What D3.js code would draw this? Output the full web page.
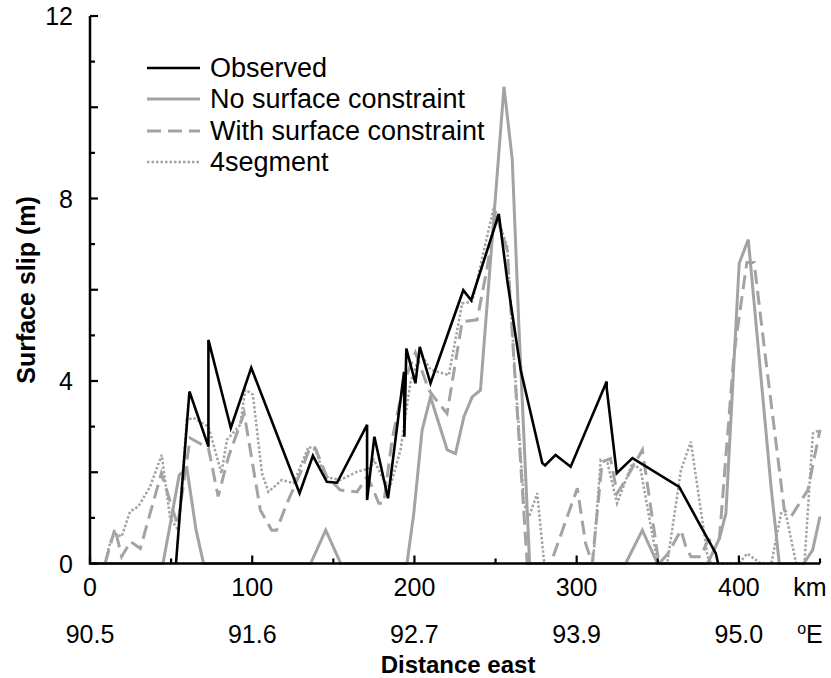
<!DOCTYPE html>
<html>
<head>
<meta charset="utf-8">
<script src="https://cdn.jsdelivr.net/npm/d3@7"></script>
<style>
  body { margin: 0; background: #fff; }
  svg text { font-family: "Liberation Sans", Arial, Helvetica, sans-serif; fill: #000; }
</style>
</head>
<body>
<svg id="paper"></svg>
<script>
// slip profiles, [distance km, slip m]
let observed = [[53,0],[61.3,3.77],[73,2.56],[73,4.9],[86.8,2.97],[99.4,4.29],[129.2,1.54],[137.4,2.36],
    [146,1.79],[152.3,1.77],[170.8,3.04],[170.8,1.39],[175.3,2.78],[183.7,1.43],[193.6,4.2],[193.8,2.78],
    [195,4.71],[200.6,3.95],[203.3,4.75],[209.9,3.95],[230.1,5.99],[235,5.77],[252,7.66],[257.2,6.21],
    [265.5,4.24],[278.8,2.2],[280.5,2.15],[287,2.38],[296.3,2.12],[318.5,3.99],[318.5,3.85],[324.7,1.98],
    [334.4,2.31],[363.2,1.68],[376.6,0.81],[385.8,0.22],[387.2,0]];

let noConstraint = [[0,0],[45,0],[55,1.94],[59.7,2.09],[65.4,0.73],[70,0],[136,0],[145.3,0.73],[154.6,0],
    [195.4,0],[199.6,1.1],[204.7,2.92],[209.9,3.65],[220.2,2.49],[225.3,2.41],[230.5,3.22],[235.6,3.65],
    [240.7,3.8],[255.2,10.45],[260.3,8.85],[264.4,5.2],[271,0],[330.2,0],[336.4,0.44],[340.5,0.73],
    [349.8,0],[380.7,0],[388,0.55],[392,1.1],[400.2,6.58],[405.8,7.1],[419.8,1.69],[424.9,0],[440,0],
    [445.5,0.3],[450,1.03]];

let withConstraint = [[9.3,0],[15.4,0.77],[19.5,0.15],[25,0.48],[31,0.33],[44,1.98],[54,0.84],[61.7,2.75],
    [73,2.53],[79,1.47],[85.4,2.34],[95,3.3],[105,1.17],[112,0.73],[115,0.73],[121.4,1.32],[129.6,1.98],
    [135.8,2.56],[138.9,2.53],[146,1.9],[154.3,1.61],[164.6,1.57],[170.8,1.9],[173.9,1.68],[178,1.32],
    [181.1,1.32],[186.2,2.71],[193.4,3.96],[200.6,4.62],[208.8,3.81],[211.9,3.65],[220.1,3.29],[229.4,5.3],
    [238.6,5.34],[244.8,6.47],[250,7.68],[257.2,6.87],[261.3,4.46],[269.5,0],[284,0],[300.4,1.65],
    [305.5,0.44],[309.6,0],[315.7,2.23],[320.8,2.3],[324.9,1.54],[329,1.76],[340.5,2.49],[350.7,0],
    [356,0.2],[364.3,0.73],[367.3,0.37],[370.4,0.15],[376.6,0.15],[380.7,0.5],[388,0.55],[397,4.6],
    [404.9,6.6],[409.4,6.6],[415.6,4.75],[428,1.17],[432.2,1.03],[442.5,1.61],[450,2.93]];

let fourSegment = [[9,0],[12.8,0.5],[15.4,0.66],[19.5,0.59],[24.7,1.14],[29.8,1.25],[37,1.68],[44.2,2.38],
    [49.4,0.99],[54.5,0.73],[59.7,3.15],[63.8,3.19],[73,3.0],[78.2,2.34],[81,1.98],[84.4,2.71],[92.6,3.04],
    [95.7,3.81],[100.4,3.7],[106,1.98],[110,1.57],[118.2,1.83],[125.5,1.76],[134.7,2.56],[138.9,2.49],
    [145,1.9],[154.3,1.83],[164.6,2.01],[172.8,2.09],[175,2.27],[181,1.83],[185,1.68],[191.4,2.49],
    [197.5,3.96],[203.7,4.62],[209.9,4.25],[221.2,4.13],[229.4,5.7],[235.6,5.74],[249,7.82],[257.2,6.94],
    [261.3,4.53],[267.5,1.32],[270.6,1.02],[275.7,1.54],[279.8,0.07],[282,0],[310,0],[314.8,2.27],
    [319,2.2],[324.9,1.32],[334.3,2.2],[339.5,2.05],[349.8,0],[355.8,0],[364.3,2.05],[370.4,2.67],
    [380.7,0.15],[383,0],[400,0],[405.2,0.22],[413.4,0],[420,0],[426,1.1],[429.1,1.06],[435.3,0],
    [440.4,0],[445.6,2.85],[450,2.93]];

let kmTicks = [0, 100, 200, 300, 400];
let kmMinor = [50, 150, 250, 350, 450];
let lonLabels = ["90.5", "91.6", "92.7", "93.9", "95.0"];
let slipLabels = [0, 4, 8, 12];
let slipMajor = [0, 2, 4, 6, 8, 10, 12];
let slipMinor = [1, 3, 5, 7, 9, 11];
let seriesNames = ["Observed", "No surface constraint", "With surface constraint", "4segment"];

let width = 831, height = 678;
let svg = d3.select("#paper").attr("width", width).attr("height", height);

let x = d3.scaleLinear().domain([0, 450]).range([90, 820]);
let y = d3.scaleLinear().domain([0, 12]).range([563.5, 16]);

let styles = [
    {data: observed, color: "#000", w: 2.6, dash: null},
    {data: noConstraint, color: "#a3a3a3", w: 3, dash: null},
    {data: withConstraint, color: "#a3a3a3", w: 3, dash: "14,7"},
    {data: fourSegment, color: "#a3a3a3", w: 2.5, dash: "2.5,2"}
];

let line = d3.line().x(d => x(d[0])).y(d => y(d[1]));

// draw gray first, black on top
[3, 2, 1, 0].forEach(i => {
    let s = styles[i];
    svg.append("path")
        .datum(s.data)
        .attr("d", line)
        .attr("fill", "none")
        .attr("stroke", s.color)
        .attr("stroke-width", s.w)
        .attr("stroke-dasharray", s.dash)
        .attr("stroke-linejoin", "miter");
});

// axes: inward ticks
let axes = svg.append("g").attr("stroke", "#000");
axes.selectAll(".xt").data(kmTicks.map(d => [d, 8]).concat(kmMinor.map(d => [d, 5])))
    .enter().append("line")
    .attr("x1", d => x(d[0])).attr("x2", d => x(d[0]))
    .attr("y1", y(0)).attr("y2", d => y(0) - d[1])
    .attr("stroke-width", 2.2);
axes.selectAll(".yt").data(slipMajor.map(d => [d, 8]).concat(slipMinor.map(d => [d, 5])))
    .enter().append("line")
    .attr("y1", d => y(d[0])).attr("y2", d => y(d[0]))
    .attr("x1", x(0)).attr("x2", d => x(0) + d[1])
    .attr("stroke-width", 2.2);
axes.append("path")
    .attr("d", "M" + x(0) + "," + y(12) + "V" + y(0) + "H" + x(450))
    .attr("fill", "none").attr("stroke-width", 2.5);

// tick labels
svg.selectAll(".ylab").data(slipLabels).enter().append("text")
    .attr("x", 73).attr("y", d => y(d) + 9)
    .attr("text-anchor", "end").style("font-size", "25px")
    .text(d => d);

svg.selectAll(".xlab").data(kmTicks).enter().append("text")
    .attr("x", d => x(d)).attr("y", 596)
    .attr("text-anchor", "middle").style("font-size", "25px")
    .text(d => d);
svg.append("text").attr("x", 810).attr("y", 596).attr("text-anchor", "middle")
    .style("font-size", "25px").text("km");

svg.selectAll(".lonlab").data(kmTicks).enter().append("text")
    .attr("x", d => x(d)).attr("y", 643)
    .attr("text-anchor", "middle").style("font-size", "25px")
    .text((d, i) => lonLabels[i]);
let oe = svg.append("text").attr("x", 810).attr("y", 643).attr("text-anchor", "middle")
    .style("font-size", "25px");
oe.append("tspan").attr("dy", -9).style("font-size", "16px").text("o");
oe.append("tspan").attr("dy", 9).text("E");

// axis titles
svg.append("text").attr("x", 458).attr("y", 673).attr("text-anchor", "middle")
    .style("font-size", "24px").style("font-weight", "bold").text("Distance east");
svg.append("text").attr("transform", "translate(35,290) rotate(-90)")
    .attr("text-anchor", "middle")
    .style("font-size", "25px").style("font-weight", "bold").text("Surface slip (m)");

// legend
let rows = [68, 99, 131, 162];
styles.forEach((s, i) => {
    svg.append("line")
        .attr("x1", 147).attr("x2", 200).attr("y1", rows[i]).attr("y2", rows[i])
        .attr("stroke", s.color).attr("stroke-width", s.w)
        .attr("stroke-dasharray", s.dash);
    svg.append("text")
        .attr("x", 210).attr("y", rows[i] + 9)
        .style("font-size", "27px")
        .text(seriesNames[i]);
});
</script>
</body>
</html>
